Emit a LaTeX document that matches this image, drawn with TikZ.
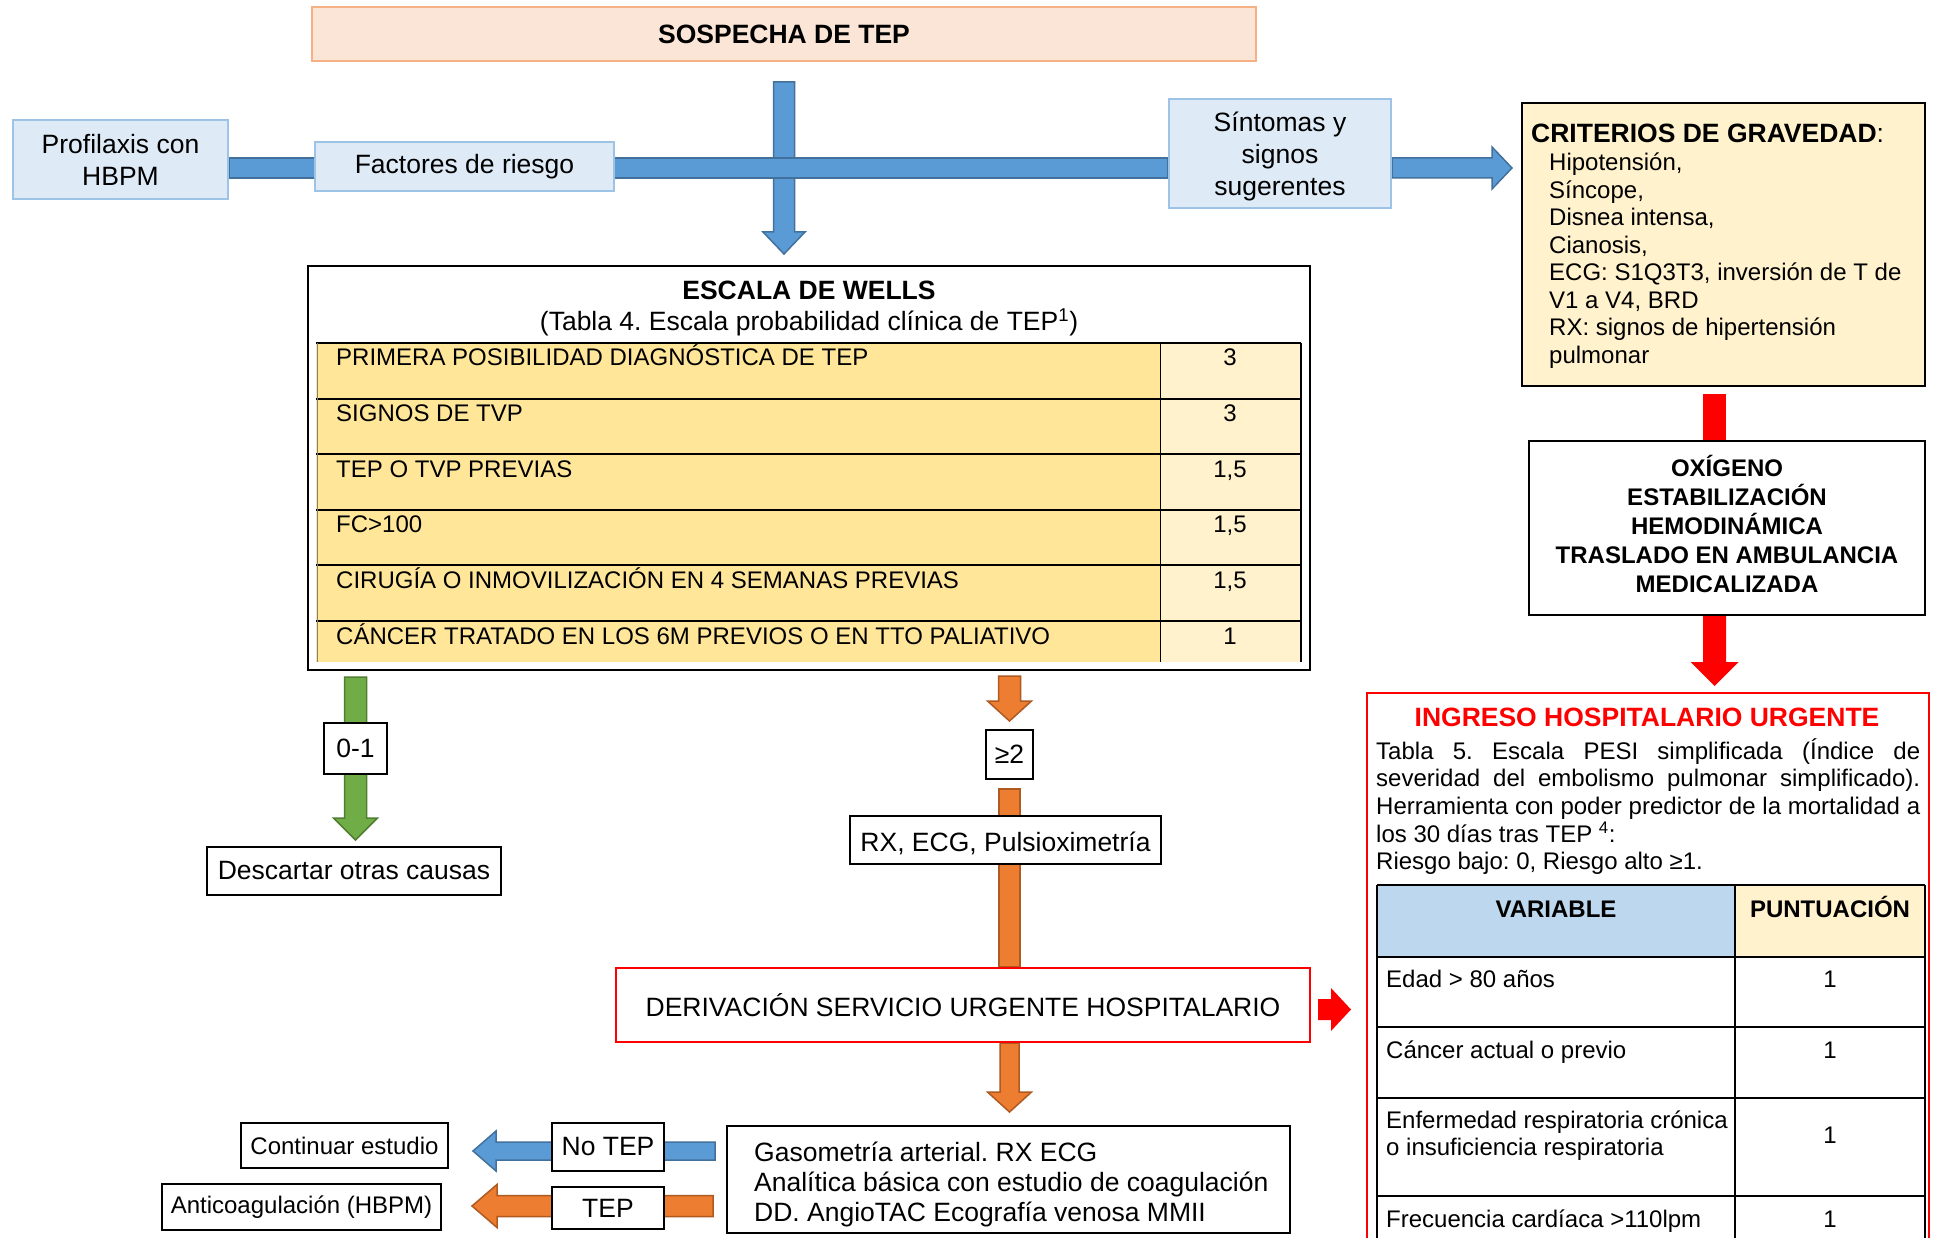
\documentclass[tikz,border=0pt]{standalone}
\usepackage{fontspec}
\setmainfont{Liberation Sans}
\frenchspacing
\definecolor{sospechaA}{RGB}{251, 229, 214}
\definecolor{sospechaB}{RGB}{244, 177, 131}
\definecolor{celesteA}{RGB}{222, 235, 247}
\definecolor{celesteB}{RGB}{157, 195, 230}
\definecolor{azulA}{RGB}{91, 155, 213}
\definecolor{azulB}{RGB}{65, 113, 156}
\definecolor{verdeA}{RGB}{112, 173, 71}
\definecolor{verdeB}{RGB}{80, 126, 50}
\definecolor{naranjaA}{RGB}{237, 125, 49}
\definecolor{naranjaB}{RGB}{174, 90, 33}
\definecolor{cremaA}{RGB}{255, 242, 204}
\definecolor{amarilloA}{RGB}{255, 230, 153}
\definecolor{cabeceraA}{RGB}{189, 215, 238}
\usetikzlibrary{calc, backgrounds}

% block arrows between two points: style, from, to, shaft half, head half, head length
\newcommand{\flechaabajo}[6]{\filldraw[#1] let \p1=(#2), \p2=(#3) in
  (\x1-#4,\y1) -- (\x1-#4,\y2+#6) -- (\x1-#5,\y2+#6) -- (\x1,\y2) --
  (\x1+#5,\y2+#6) -- (\x1+#4,\y2+#6) -- (\x1+#4,\y1) -- cycle;}
\newcommand{\flechaizq}[6]{\filldraw[#1] let \p1=(#2), \p2=(#3) in
  (\x1,\y1+#4) -- (\x2+#6,\y1+#4) -- (\x2+#6,\y1+#5) -- (\x2,\y1) --
  (\x2+#6,\y1-#5) -- (\x2+#6,\y1-#4) -- (\x1,\y1-#4) -- cycle;}
\newcommand{\flechader}[6]{\filldraw[#1] let \p1=(#2), \p2=(#3) in
  (\x1,\y1+#4) -- (\x2-#6,\y1+#4) -- (\x2-#6,\y1+#5) -- (\x2,\y1) --
  (\x2-#6,\y1-#5) -- (\x2-#6,\y1-#4) -- (\x1,\y1-#4) -- cycle;}
\newcommand{\barrav}[4]{\filldraw[#1] let \p1=(#2), \p2=(#3) in
  (\x1-#4,\y1) rectangle (\x1+#4,\y2);}
\newcommand{\barrah}[4]{\filldraw[#1] let \p1=(#2), \p2=(#3) in
  (\x1,\y1-#4) rectangle (\x2,\y1+#4);}

\begin{document}
\begin{tikzpicture}[x=1pt, y=-1pt,
  txtbig/.style={font=\fontsize{26.5}{32}\selectfont},
  txtsmall/.style={font=\fontsize{24}{27.5}\selectfont},
  caja/.style={draw=black, line width=2pt, fill=white, inner sep=0pt, align=center},
  cajaceleste/.style={draw=celesteB, line width=2pt, fill=celesteA, inner sep=0pt, align=center, txtbig},
  flechaazul/.style={fill=azulA, draw=azulB, line width=1.5pt},
  flechaverde/.style={fill=verdeA, draw=verdeB, line width=1.5pt},
  flechanaranja/.style={fill=naranjaA, draw=naranjaB, line width=1.5pt},
  flecharoja/.style={fill=red, draw=none},
  linea/.style={line width=2pt}]

\useasboundingbox (0,0) rectangle (1936,1238);
\begin{scope}[on background layer]
\fill[white] (0,0) rectangle (1936,1238);
\end{scope}

\coordinate (barra) at (0,168);
\coordinate (s0) at (784,82);
\coordinate (rojo) at (1714.5,0);

%%% TOP ROW
\node[draw=sospechaB, fill=sospechaA, line width=2pt, inner sep=0pt, minimum width=944pt, minimum height=54pt, txtbig] (sosp) at (784,34) {\textbf{SOSPECHA DE TEP}};

\node[cajaceleste, minimum width=215pt, minimum height=79pt] (prof) at (120.5,159.5) {Profilaxis con\\HBPM};
\node[cajaceleste, minimum width=299pt, minimum height=49pt] (fact) at (464.5,166.5) {Factores de riesgo};
\node[cajaceleste, minimum width=222pt, minimum height=109pt, text depth=0pt] (sint) at (1280,153.5) {Síntomas y\\signos\\sugerentes};

%%% CRITERIOS DE GRAVEDAD
\node[caja, fill=cremaA, minimum width=403pt, minimum height=283pt] (crit) at (1723.5,244.5) {};
\node[anchor=base west, inner sep=0pt, txtbig] (critt) at (1531,143) {\textbf{CRITERIOS DE GRAVEDAD}:};
\node[anchor=base west, inner sep=0pt, txtsmall] (c1) at (1549,171) {Hipotensión,};
\node[anchor=base west, inner sep=0pt, txtsmall] (c2) at (1549,198.5) {Síncope,};
\node[anchor=base west, inner sep=0pt, txtsmall] (c3) at (1549,226) {Disnea intensa,};
\node[anchor=base west, inner sep=0pt, txtsmall] (c4) at (1549,253.5) {Cianosis,};
\node[anchor=base west, inner sep=0pt, txtsmall] (c5) at (1549,281) {ECG: S1Q3T3, inversión de T de};
\node[anchor=base west, inner sep=0pt, txtsmall] (c6) at (1549,308.5) {V1 a V4, BRD};
\node[anchor=base west, inner sep=0pt, txtsmall] (c7) at (1549,336) {RX: signos de hipertensión};
\node[anchor=base west, inner sep=0pt, txtsmall] (c8) at (1549,363.5) {pulmonar};

%%% ESCALA DE WELLS
\node[caja, minimum width=1002pt, minimum height=404pt] (wells) at (809,468) {};
\node[anchor=base, inner sep=0pt, txtbig] (wt) at (809,300) {\textbf{ESCALA DE WELLS}};
\node[anchor=base, inner sep=0pt, txtbig] (ws) at (809,330.5) {(Tabla 4. Escala probabilidad clínica de TEP\textsuperscript{1})};

\fill[amarilloA] (316,343) rectangle (1160,662);
\fill[cremaA] (1160,343) rectangle (1301,662);
\draw[linea] (316,343) -- (1301,343);
\draw[linea] (316,398.6) -- (1301,398.6);
\draw[linea] (316,454.2) -- (1301,454.2);
\draw[linea] (316,509.8) -- (1301,509.8);
\draw[linea] (316,565.4) -- (1301,565.4);
\draw[linea] (316,621) -- (1301,621);
\draw[gray, line width=1pt] (317,343) -- (317,662);
\draw[line width=1pt] (1160,343) -- (1160,662);
\draw[line width=1.5pt] (1301,343) -- (1301,662);

\node[anchor=base west, inner sep=0pt, txtsmall] (wr1) at (336,366) {PRIMERA POSIBILIDAD DIAGNÓSTICA DE TEP};
\node[anchor=base, inner sep=0pt, txtsmall] (wp1) at (1230,366) {3};
\node[anchor=base west, inner sep=0pt, txtsmall] (wr2) at (336,421.6) {SIGNOS DE TVP};
\node[anchor=base, inner sep=0pt, txtsmall] (wp2) at (1230,421.6) {3};
\node[anchor=base west, inner sep=0pt, txtsmall] (wr3) at (336,477.2) {TEP O TVP PREVIAS};
\node[anchor=base, inner sep=0pt, txtsmall] (wp3) at (1230,477.2) {1,5};
\node[anchor=base west, inner sep=0pt, txtsmall] (wr4) at (336,532.8) {FC>100};
\node[anchor=base, inner sep=0pt, txtsmall] (wp4) at (1230,532.8) {1,5};
\node[anchor=base west, inner sep=0pt, txtsmall] (wr5) at (336,588.4) {CIRUGÍA O INMOVILIZACIÓN EN 4 SEMANAS PREVIAS};
\node[anchor=base, inner sep=0pt, txtsmall] (wp5) at (1230,588.4) {1,5};
\node[anchor=base west, inner sep=0pt, txtsmall] (wr6) at (336,644) {CÁNCER TRATADO EN LOS 6M PREVIOS O EN TTO PALIATIVO};
\node[anchor=base, inner sep=0pt, txtsmall] (wp6) at (1230,644) {1};

%%% LEFT AND MIDDLE BRANCHES
\node[caja, minimum width=63pt, minimum height=51pt, txtbig] (zero) at (355.5,748.5) {0-1};
\node[caja, minimum width=294pt, minimum height=48pt, txtbig] (desc) at (354,871) {Descartar otras causas};
\node[caja, minimum width=47pt, minimum height=49pt, txtbig] (geq) at (1009.5,754.5) {≥2};
\node[caja, minimum width=311pt, minimum height=48pt, txtbig, text height=25pt, text depth=2pt] (rx) at (1005.5,840) {RX, ECG, Pulsioximetría};
\node[caja, draw=red, minimum width=694pt, minimum height=74pt, txtbig] (deriv) at (963,1005) {DERIVACIÓN SERVICIO URGENTE HOSPITALARIO};

\node[caja, minimum width=563pt, minimum height=107pt] (gaso) at (1008.5,1179.5) {};
\node[anchor=base west, inner sep=0pt, txtbig] (g1) at (754,1161.5) {Gasometría arterial. RX ECG};
\node[anchor=base west, inner sep=0pt, txtbig] (g2) at (754,1191.5) {Analítica básica con estudio de coagulación};
\node[anchor=base west, inner sep=0pt, txtbig] (g3) at (754,1221.5) {DD. AngioTAC Ecografía venosa MMII};

\node[caja, minimum width=112pt, minimum height=48pt, txtbig] (notep) at (608,1147) {No TEP};
\node[caja, minimum width=112pt, minimum height=42pt, txtbig] (tep) at (608,1208) {TEP};
\node[caja, minimum width=207pt, minimum height=45pt, txtsmall] (cont) at (344.5,1145.5) {Continuar estudio};
\node[caja, minimum width=279pt, minimum height=46pt, txtsmall] (anti) at (301.5,1207) {Anticoagulación (HBPM)};

%%% RIGHT COLUMN
\node[caja, minimum width=396pt, minimum height=174pt] (oxi) at (1727,528) {};
\node[inner sep=0pt, align=center, font=\fontsize{24}{29}\selectfont\bfseries] (oxit) at (1727,524) {OXÍGENO\\ESTABILIZACIÓN\\HEMODINÁMICA\\TRASLADO EN AMBULANCIA\\MEDICALIZADA};

\node[caja, draw=red, minimum width=562pt, minimum height=567pt] (ingr) at (1648,976.5) {};
\node[anchor=base, inner sep=0pt, txtbig, text=red] (ingt) at (1647,726) {\textbf{INGRESO HOSPITALARIO URGENTE}};
\node[anchor=north west, inner sep=0pt, text width=544pt, align=justify, font=\fontsize{24}{27.7}\selectfont] (pesi) at (1376,738) {Tabla 5. Escala PESI simplificada (Índice de\linebreak severidad del embolismo pulmonar simplificado).\linebreak Herramienta con poder predictor de la mortalidad a\linebreak los 30 días tras TEP \textsuperscript{4}:\\Riesgo bajo: 0, Riesgo alto ≥1.};

\fill[cabeceraA] (1377,885) rectangle (1735,957);
\fill[cremaA] (1735,885) rectangle (1925,957);
\draw[linea] (1377,885) -- (1925,885);
\draw[linea] (1377,957) -- (1925,957);
\draw[linea] (1377,1027) -- (1925,1027);
\draw[linea] (1377,1098) -- (1925,1098);
\draw[linea] (1377,1196) -- (1925,1196);
\draw[line width=1.5pt] (1377,885) -- (1377,1250);
\draw[line width=1.5pt] (1735,885) -- (1735,1250);
\draw[line width=1.5pt] (1925,885) -- (1925,1250);

\node[anchor=base, inner sep=0pt, txtsmall] (hvar) at (1556,917) {\textbf{VARIABLE}};
\node[anchor=base, inner sep=0pt, txtsmall] (hpun) at (1830,917) {\textbf{PUNTUACIÓN}};
\node[anchor=base west, inner sep=0pt, txtsmall] (v1) at (1386,987) {Edad > 80 años};
\node[anchor=base, inner sep=0pt, txtsmall] (p1) at (1830,987) {1};
\node[anchor=base west, inner sep=0pt, txtsmall] (v2) at (1386,1058) {Cáncer actual o previo};
\node[anchor=base, inner sep=0pt, txtsmall] (p2) at (1830,1058) {1};
\node[anchor=base west, inner sep=0pt, txtsmall] (v3) at (1386,1128) {Enfermedad respiratoria crónica};
\node[anchor=base west, inner sep=0pt, txtsmall] (v3b) at (1386,1155.5) {o insuficiencia respiratoria};
\node[anchor=base, inner sep=0pt, txtsmall] (p3) at (1830,1143) {1};
\node[anchor=base west, inner sep=0pt, txtsmall] (v4) at (1386,1227) {Frecuencia cardíaca >110lpm};
\node[anchor=base, inner sep=0pt, txtsmall] (p4) at (1830,1227) {1};

%%% ARROWS
\begin{scope}[on background layer]
\flechaabajo{flechaazul}{s0}{$(wells.north -| s0)+(0,-11)$}{10.5pt}{21pt}{22pt}
\barrah{flechaazul}{prof.east |- barra}{sint.west |- barra}{10pt}
\flechader{flechaazul}{sint.east |- barra}{$(crit.west |- barra)+(-9,0)$}{10pt}{21pt}{20pt}

\flechaabajo{flechaverde}{$(wells.south -| zero)+(0,6)$}{$(desc.north -| zero)+(0,-6)$}{11pt}{22pt}{22pt}

\flechaabajo{flechanaranja}{$(wells.south -| geq)+(0,5)$}{$(geq.north)+(0,-8)$}{11pt}{22pt}{20pt}
\barrav{flechanaranja}{$(geq.south)+(0,9)$}{deriv.north -| geq}{10.5pt}
\flechaabajo{flechanaranja}{deriv.south -| geq}{$(gaso.north -| geq)+(0,-13)$}{9.5pt}{22pt}{20pt}

\flechaizq{flechaazul}{$(gaso.west |- notep)+(-11,4)$}{$(cont.east |- notep)+(24,4)$}{9pt}{20pt}{23pt}
\flechaizq{flechanaranja}{$(gaso.west |- tep)+(-13,-2)$}{$(anti.east |- tep)+(30,-2)$}{10.5pt}{21.5pt}{25pt}

\barrav{flecharoja}{$(crit.south -| rojo)+(0,7)$}{oxi.north -| rojo}{11.5pt}
\flechaabajo{flecharoja}{oxi.south -| rojo}{$(ingr.north -| rojo)+(0,-6)$}{11.5pt}{24pt}{24pt}
\flechader{flecharoja}{$(deriv.east)+(7,4.5)$}{$(ingr.west |- deriv)+(-15,4.5)$}{10.5pt}{21.5pt}{20pt}
\end{scope}

\end{tikzpicture}
\end{document}
